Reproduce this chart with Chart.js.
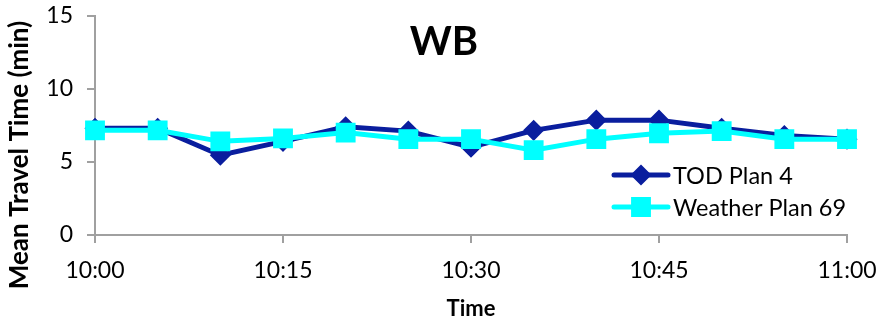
<!DOCTYPE html>
<html>
<head>
<meta charset="utf-8">
<script src="https://cdn.jsdelivr.net/npm/chart.js@4"></script>
<style>
  html, body { margin: 0; padding: 0; background: #fff; }
  #wrap { width: 881px; height: 324px; }
</style>
</head>
<body>
<div id="wrap"><canvas id="wb"></canvas></div>
<script>
const times = ['10:00', '10:05', '10:10', '10:15', '10:20', '10:25', '10:30',
               '10:35', '10:40', '10:45', '10:50', '10:55', '11:00'];
const todPlan4 = [7.3, 7.3, 5.45, 6.4, 7.4, 7.1, 6.0, 7.15, 7.85, 7.85, 7.3, 6.8, 6.55];
const weatherPlan69 = [7.15, 7.15, 6.4, 6.6, 7.0, 6.55, 6.55, 5.8, 6.55, 6.95, 7.1, 6.55, 6.55];
const yTicks = [0, 5, 10, 15];

const FONT = 'Lato, "Open Sans", sans-serif';
const AXIS = '#a0a0a0';

// title, y-axis title and legend are placed like the excel original, so draw them here
const insidePlugin = {
  id: 'inside',
  afterDraw(chart) {
    const ctx = chart.ctx;
    ctx.save();
    ctx.fillStyle = '#000';
    ctx.font = 'bold 40px ' + FONT;
    ctx.textAlign = 'center';
    ctx.textBaseline = 'middle';
    ctx.fillText('WB', 444, 42);

    ctx.save();
    ctx.translate(20, 155);
    ctx.rotate(-Math.PI / 2);
    ctx.font = 'bold 26px ' + FONT;
    ctx.fillText('Mean Travel Time (min)', 0, 0);
    ctx.restore();

    const items = [chart.data.datasets[0], chart.data.datasets[1]];
    ctx.font = '23.5px ' + FONT;
    ctx.textAlign = 'left';
    items.forEach((ds, i) => {
      const y = 175 + i * 32;
      const x0 = 614, x1 = 668;
      ctx.strokeStyle = ds.borderColor;
      ctx.lineWidth = 5;
      ctx.lineCap = 'round';
      ctx.beginPath();
      ctx.moveTo(x0, y);
      ctx.lineTo(x1, y);
      ctx.stroke();
      Chart.helpers.drawPoint(ctx, {
        pointStyle: ds.pointStyle,
        radius: ds.pointRadius,
        borderWidth: 1
      }, (x0 + x1) / 2, y);
      ctx.fillStyle = ds.pointBackgroundColor;
      ctx.fill();
      ctx.fillStyle = '#000';
      ctx.fillText(ds.label, 673, y + 1);
    });
    ctx.restore();
  }
};

new Chart(document.getElementById('wb'), {
  type: 'line',
  data: {
    labels: times,
    datasets: [{
      label: 'TOD Plan 4',
      data: todPlan4,
      borderColor: '#0a1e9e',
      backgroundColor: '#0a1e9e',
      pointBackgroundColor: '#0a1e9e',
      pointBorderColor: '#0a1e9e',
      pointStyle: 'rectRot',
      pointRadius: 7,
      borderWidth: 5,
      order: 1
    }, {
      label: 'Weather Plan 69',
      data: weatherPlan69,
      borderColor: '#00ffff',
      backgroundColor: '#00ffff',
      pointBackgroundColor: '#00ffff',
      pointBorderColor: '#00ffff',
      pointStyle: 'rect',
      pointRadius: 10.5,
      borderWidth: 5,
      order: 0
    }]
  },
  options: {
    responsive: true,
    maintainAspectRatio: false,
    animation: false,
    layout: { padding: { left: 0, right: 34, top: 15, bottom: 0 } },
    plugins: {
      legend: { display: false },
      tooltip: { enabled: false }
    },
    scales: {
      x: {
        type: 'category',
        offset: false,
        border: { color: AXIS, width: 2 },
        grid: { drawOnChartArea: false, drawTicks: true, tickLength: 8, color: AXIS, lineWidth: 2 },
        ticks: {
          color: '#000',
          font: { family: FONT, size: 23 },
          padding: 14,
          maxRotation: 0,
          autoSkip: false,
          callback: function (v, i) { return i % 3 === 0 ? times[i] : null; }
        },
        title: { display: true, text: 'Time', color: '#000', font: { family: FONT, size: 22, weight: 'bold' }, padding: { top: 2, bottom: 2 } },
        afterFit: s => { s.height = 89; s.paddingLeft = 0; s.paddingRight = 0; }
      },
      y: {
        min: 0,
        max: 15,
        border: { color: AXIS, width: 2 },
        grid: { drawOnChartArea: false, drawTicks: true, tickLength: 8, color: AXIS, lineWidth: 2 },
        afterBuildTicks: s => { s.ticks = yTicks.map(v => ({ value: v })); },
        ticks: {
          color: '#000',
          font: { family: FONT, size: 23 },
          padding: 14
        },
        afterFit: s => { s.width = 95; s.paddingTop = 0; s.paddingBottom = 0; }
      }
    }
  },
  plugins: [insidePlugin]
});
</script>
</body>
</html>
